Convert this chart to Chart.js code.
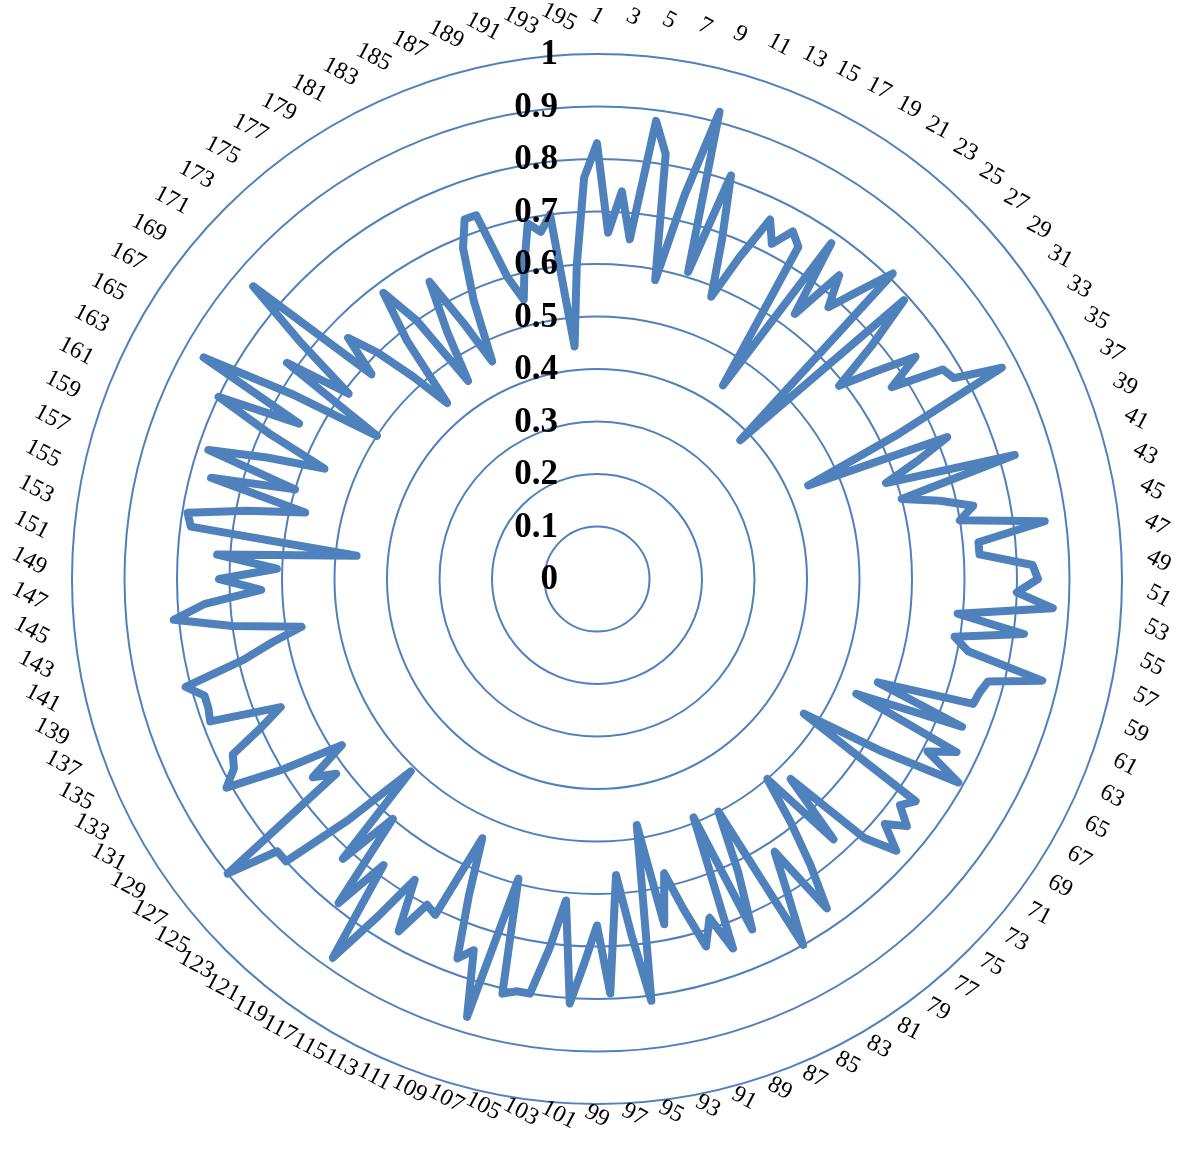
<!DOCTYPE html>
<html>
<head>
<meta charset="utf-8">
<script src="https://cdn.jsdelivr.net/npm/chart.js@4/dist/chart.umd.min.js"></script>
<style>
  body { margin: 0; background: #fff; }
  canvas { display: block; }
</style>
</head>
<body>
<canvas id="radarChart" width="1181" height="1161"></canvas>
<script>
// categories 1..196, only the odd ones are shown
const categories = Array.from({ length: 196 }, (_, i) => String(i + 1));

const values = [
  0.83, 0.66, 0.74, 0.65, 0.88, 0.82, 0.58, 0.75, 0.92, 0.61,
  0.81, 0.69, 0.58, 0.67, 0.76, 0.72, 0.76, 0.74, 0.44, 0.78,
  0.63, 0.74, 0.68, 0.74, 0.81, 0.38, 0.79, 0.69, 0.59, 0.66,
  0.74, 0.67, 0.77, 0.78, 0.87, 0.64, 0.44, 0.72, 0.65, 0.58,
  0.83, 0.60, 0.67, 0.73, 0.70, 0.86, 0.73, 0.73, 0.83, 0.84,
  0.80, 0.87, 0.69, 0.82, 0.69, 0.72, 0.87, 0.77, 0.76, 0.755,
  0.57, 0.75, 0.54, 0.76, 0.71, 0.79, 0.63, 0.47, 0.74, 0.72,
  0.755, 0.72, 0.77, 0.71, 0.53, 0.67, 0.50, 0.59, 0.68, 0.765,
  0.62, 0.70, 0.80, 0.50, 0.62, 0.73, 0.49, 0.75, 0.68, 0.73,
  0.65, 0.575, 0.67, 0.475, 0.81, 0.68, 0.565, 0.79, 0.66, 0.73,
  0.81, 0.615, 0.71, 0.80, 0.80, 0.81, 0.59, 0.87, 0.745, 0.77,
  0.65, 0.54, 0.71, 0.70, 0.77, 0.67, 0.77, 0.88, 0.68, 0.79,
  0.60, 0.72, 0.51, 0.66, 0.80, 0.80, 0.90, 0.62, 0.66, 0.58,
  0.70, 0.81, 0.78, 0.77, 0.70, 0.65, 0.785, 0.78, 0.78, 0.81,
  0.69, 0.63, 0.57, 0.70, 0.81, 0.75, 0.64, 0.72, 0.61, 0.725,
  0.46, 0.78, 0.79, 0.68, 0.57, 0.76, 0.60, 0.78, 0.67, 0.56,
  0.68, 0.80, 0.64, 0.86, 0.68, 0.50, 0.72, 0.59, 0.72, 0.86,
  0.58, 0.66, 0.60, 0.52, 0.44, 0.58, 0.68, 0.60, 0.45, 0.55,
  0.65, 0.55, 0.46, 0.58, 0.68, 0.73, 0.73, 0.60, 0.55, 0.62,
  0.69, 0.67, 0.70, 0.445, 0.60, 0.765
];

const tickValues = [0, 0.1, 0.2, 0.3, 0.4, 0.5, 0.6, 0.7, 0.8, 0.9, 1];
const tickLabels = ["0", "0.1", "0.2", "0.3", "0.4", "0.5", "0.6", "0.7", "0.8", "0.9", "1"];

const lineColor = "#4F81BD";

// tick labels to the left of the vertical axis, and tilted category labels
const labelPlugin = {
  id: "radarLabels",
  afterDraw(chart) {
    const scale = chart.scales.r;
    const ctx = chart.ctx;
    ctx.save();

    ctx.fillStyle = "#000";
    ctx.font = 'bold 35px "Liberation Serif", "Times New Roman", serif';
    ctx.textAlign = "right";
    ctx.textBaseline = "middle";
    tickValues.forEach((v, i) => {
      const y = scale.yCenter - scale.getDistanceFromCenterForValue(v);
      ctx.fillText(tickLabels[i], scale.xCenter - 39, y + 1);
    });

    // every category label is turned the same way (clockwise),
    // pushed outwards on the side it sits on
    ctx.font = '24px "Liberation Serif", "Times New Roman", serif';
    ctx.textAlign = "center";
    categories.forEach((label, i) => {
      if (i % 2 !== 0) return;
      const theta = (i / categories.length) * Math.PI * 2;
      const p = scale.getPointPosition(i, 550);
      const w = ctx.measureText(label).width;
      const side = Math.max(-1, Math.min(1, Math.sin(theta) * 2.5));
      ctx.save();
      ctx.translate(p.x + side * w / 2, p.y - 13 * Math.abs(Math.cos(theta)));
      ctx.rotate(28 * Math.PI / 180);
      ctx.fillText(label, 0, 0);
      ctx.restore();
    });

    ctx.restore();
  }
};

const ctx = document.getElementById("radarChart").getContext("2d");
new Chart(ctx, {
  type: "radar",
  data: {
    labels: categories,
    datasets: [
      {
        data: values,
        borderColor: lineColor,
        borderWidth: 8,
        borderJoinStyle: "round",
        fill: false,
        pointRadius: 0,
        tension: 0,
      },
    ],
  },
  options: {
    responsive: false,
    animation: false,
    devicePixelRatio: 1,
    layout: {
      padding: { left: 72, right: 59, top: 54, bottom: 57 },
    },
    plugins: {
      legend: { display: false },
      tooltip: { enabled: false },
    },
    scales: {
      r: {
        min: 0,
        max: 1,
        ticks: { display: false, stepSize: 0.1 },
        grid: { circular: true, color: lineColor, lineWidth: 2 },
        angleLines: { display: false },
        pointLabels: { display: false },
      },
    },
  },
  plugins: [labelPlugin],
});
</script>
</body>
</html>
